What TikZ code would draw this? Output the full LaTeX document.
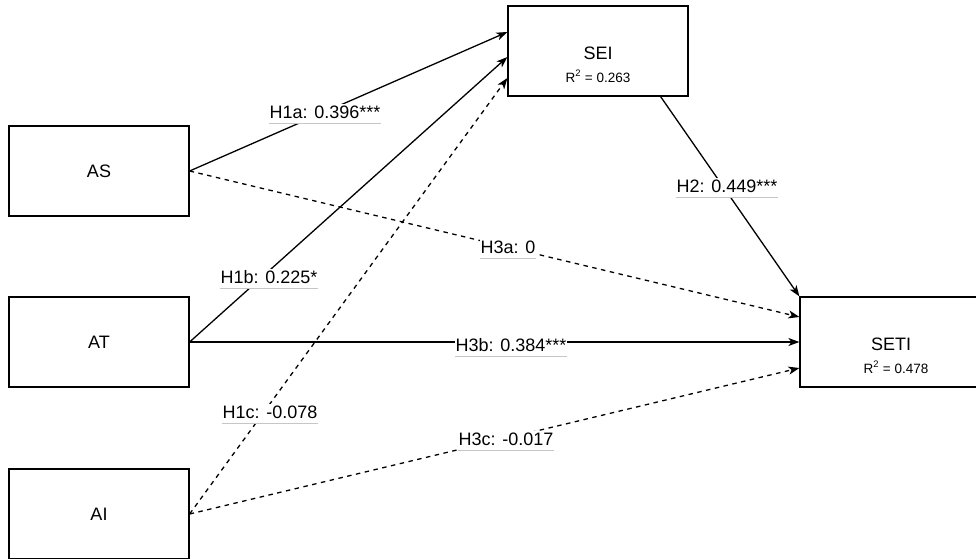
\documentclass[tikz,border=0pt]{standalone}
\usepackage{fontspec}
\setmainfont{Liberation Sans}
\usetikzlibrary{arrows.meta,calc}
\begin{document}
\begin{tikzpicture}[x=1pt,y=-1pt,
 box/.style={draw,line width=1.2pt,minimum width=180pt,minimum height=90pt,inner sep=0pt,font=\fontsize{18}{21}\selectfont},
 big/.style={font=\fontsize{18}{21}\selectfont,inner sep=0pt},
 small/.style={font=\fontsize{13.5}{16}\selectfont,inner sep=0pt},
 conn/.style={line width=1.3pt,-{Stealth[length=11pt,width=8pt,inset=3pt]}},
 dconn/.style={conn,dash pattern=on 4.5pt off 4.5pt},
 lbl/.style={font=\fontsize{18}{21}\selectfont,fill=white,inner xsep=0.5pt,inner ysep=1pt,text height=13pt,text depth=4pt,anchor=base},
 uline/.style={draw=gray!45,line width=0.9pt}
]
\useasboundingbox (0,0) rectangle (976,558);

% boxes
\node[box] (AS) at (99,171) {AS};
\node[box] (AT) at (99,342) {AT};
\node[box] (AI) at (99,514) {AI};
\node[box] (SEI) at (598,51) {};
\node[big,anchor=base] (SEIt) at (598,59) {SEI};
\node[small,anchor=base] (SEIr) at (598,82) {R\textsuperscript{2} = 0.263};
\node[box] (SETI) at (890,342) {};
\node[big,anchor=base] (SETIt) at (891,350) {SETI};
\node[small,anchor=base] (SETIr) at (896,373) {R\textsuperscript{2} = 0.478};

% connectors
\draw[conn] (AS.east) -- ($(SEI.west)+(0,-19)$);
\draw[conn] (AT.east) -- ($(SEI.west)+(0,6)$);
\draw[dconn] (AI.east) -- ($(SEI.west)+(0,27)$);
\draw[dconn] (AS.east) -- ($(SETI.west)+(0,-25)$);
\draw[conn] (AT.east) -- (SETI.west);
\draw[dconn] (AI.east) -- ($(SETI.west)+(0,26)$);
\draw[conn] ($(SEI.south east)+(-28,0)$) -- (SETI.north west);

% labels
\node[lbl] (l1a) at (325,118) {H1a: 0.396***};
\node[lbl] (l1b) at (269,283) {H1b: 0.225*};
\node[lbl] (l1c) at (270,418) {H1c: -0.078};
\node[lbl] (l3a) at (508,253) {H3a: 0};
\node[lbl] (l3b) at (511,351) {H3b: 0.384***};
\node[lbl] (l3c) at (506,445) {H3c: -0.017};
\node[lbl] (l2) at (727,192) {H2: 0.449***};
\foreach \n in {l1a,l1b,l1c,l3a,l3b,l3c,l2}
  \draw[uline] (\n.south west) -- (\n.south east);
\end{tikzpicture}
\end{document}
